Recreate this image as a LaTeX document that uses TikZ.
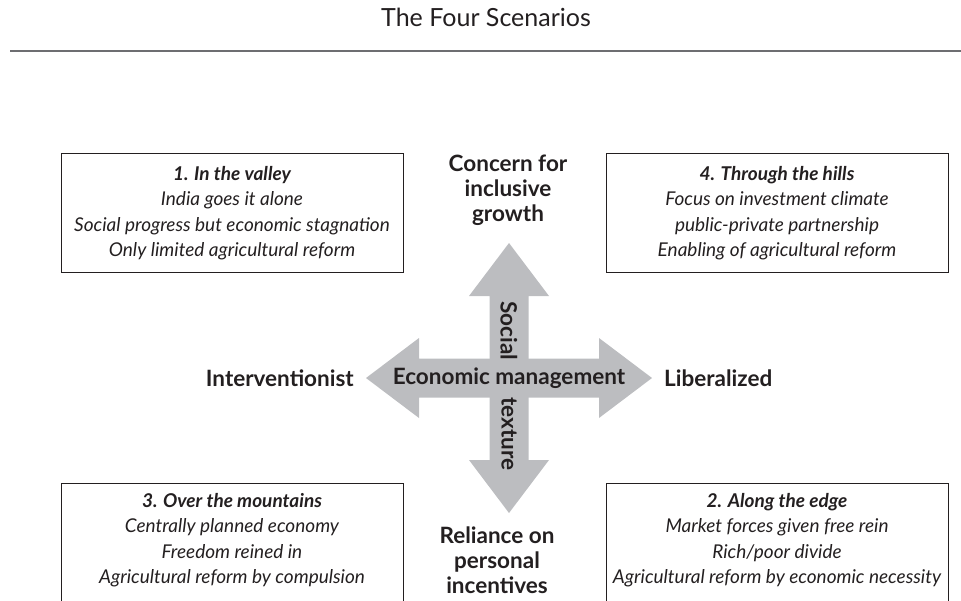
\documentclass[tikz,border=0pt]{standalone}
\usepackage{fontspec}
\setmainfont{Lato}
\usetikzlibrary{positioning}

\definecolor{arrowgray}{HTML}{BCBDC0}
\definecolor{inkgray}{HTML}{231F20}
\definecolor{rulegray}{HTML}{6D6E71}

\tikzset{
  scenario/.style={align=center, text=inkgray, inner sep=0pt,
    font=\fontsize{19}{25.5}\selectfont\itshape},
  frame/.style={draw=inkgray, line width=1pt},
  axislabel/.style={align=center, text=inkgray, inner sep=0pt,
    font=\fontsize{22.5}{25}\selectfont\bfseries},
}

\begin{document}
\begin{tikzpicture}[x=1pt,y=-1pt]
  \useasboundingbox (0,0) rectangle (961,600);

  % title and rule
  \node[text=inkgray, font=\fontsize{25}{30}\selectfont] (title) at (486,17) {The Four Scenarios};
  \coordinate (ruleL) at (10,51);
  \coordinate (ruleR) at (961,51);
  \draw[rulegray, line width=2pt] (ruleL) -- (ruleR);

  % the cross of arrows
  \coordinate (c) at (509,378);
  \foreach \ang/\len in {0/143,90/135,180/143,270/135}
    \fill[arrowgray, shift={(c)}, rotate=\ang]
      (0,-19.5) -- (\len-53,-19.5) -- (\len-53,-40) -- (\len,0)
      -- (\len-53,40) -- (\len-53,19.5) -- (0,19.5) -- cycle;

  \node[axislabel] (econ) at (c) {Economic management};
  \node[axislabel, rotate=-90] (social) at (509,331) {Social};
  \node[axislabel, rotate=-90] (texture) at (509,434) {texture};

  \coordinate (wtip) at (366,378);
  \coordinate (etip) at (652,378);
  \node[axislabel, left=12pt of wtip] (interv) {Interventionist};
  \node[axislabel, right=12pt of etip] (liber) {Liberalized};
  \node[axislabel] (concern) at (508,190) {Concern for\\inclusive\\growth};
  \node[axislabel] (reliance) at (497,560) {Reliance on\\personal\\incentives};

  % the four scenarios
  \draw[frame] (61,153) rectangle (403,272);
  \draw[frame] (606,153) rectangle (948,272);
  \draw[frame] (61,483) rectangle (403,640);
  \draw[frame] (606,483) rectangle (948,640);

  \node[scenario] (valley) at (232,213)
    {\textbf{1. In the valley}\\India goes it alone\\Social progress but economic stagnation\\Only limited agricultural reform};
  \node[scenario] (hills) at (777,213)
    {\textbf{4. Through the hills}\\Focus on investment climate\\public-private partnership\\Enabling of agricultural reform};
  \node[scenario] (mountains) at (232,540)
    {\textbf{3. Over the mountains}\\Centrally planned economy\\Freedom reined in\\Agricultural reform by compulsion};
  \node[scenario] (edge) at (777,540)
    {\textbf{2. Along the edge}\\Market forces given free rein\\Rich/poor divide\\Agricultural reform by economic necessity};
\end{tikzpicture}
\end{document}
